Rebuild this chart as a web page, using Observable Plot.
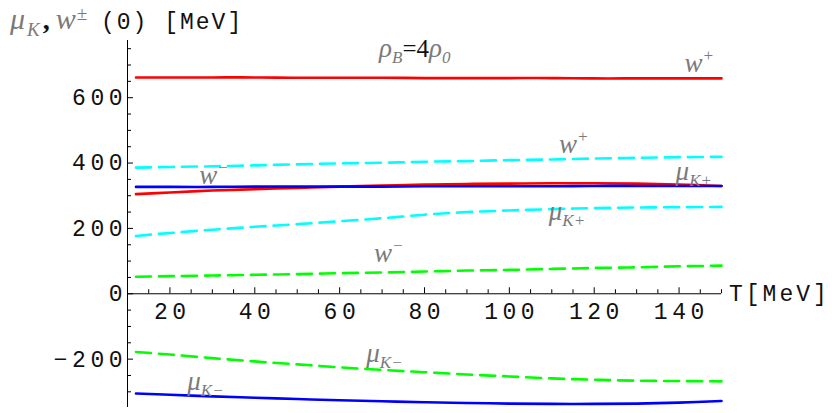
<!DOCTYPE html>
<html><head><meta charset="utf-8">
<script src="https://cdn.jsdelivr.net/npm/d3@7"></script>
<script src="https://cdn.jsdelivr.net/npm/@observablehq/plot@0.6"></script>
<style>body{margin:0;background:#fff} svg{display:block}</style>
</head><body><div id="chart"></div>
<script>
// Temperature samples (MeV)
const T = [12, 20, 30, 40, 50, 60, 70, 80, 90, 100, 110, 120, 130, 140, 150];
// rho_B = 4 rho_0 curves (MeV)
const wPlusSolid   = [662, 662, 662, 662, 661, 661, 661, 660, 660, 660, 660, 659, 659, 659, 659];
const muKplusSolid = [327, 327, 327, 328, 328, 328, 328, 329, 329, 329, 329, 330, 330, 330, 330];
const wMinusSolid  = [305, 310, 316, 320, 324, 328, 331, 334, 336, 337, 338, 338, 337, 334, 330];
const muKminusSolid= [-305, -309, -314, -318, -322, -326, -329, -332, -334, -336, -337, -337, -336, -333, -328];
const wPlusDash    = [386, 388, 390, 393, 396, 399, 401, 404, 406, 409, 411, 414, 416, 418, 419];
const muKplusDash  = [177, 186, 196, 205, 213, 222, 231, 242, 250, 255, 259, 262, 264, 265, 266];
const wMinusDash   = [52, 54, 56, 58, 60, 63, 65, 68, 71, 73, 76, 79, 81, 84, 86];
const muKminusDash = [-178, -186, -197, -207, -216, -225, -233, -240, -247, -253, -259, -263, -266, -267, -268];

const xTickLabels = [20, 40, 60, 80, 100, 120, 140];
const yTickLabels = [-200, 0, 200, 400, 600];
const xMinorTicks = d3.range(15, 151, 5);
const yMinorTicks = d3.range(-300, 751, 50);

const xDomain = [10, 150];
const yDomain = [-348, 775];

const series = [
  {values: wPlusDash,     stroke: "#00ffff", dash: "15,8"},
  {values: muKplusDash,   stroke: "#00ffff", dash: "15,8"},
  {values: wMinusDash,    stroke: "#00ff00", dash: "15,8"},
  {values: muKminusDash,  stroke: "#00ff00", dash: "15,8"},
  {values: wPlusSolid,    stroke: "#ff0000", dash: null},
  {values: wMinusSolid,   stroke: "#ff0000", dash: null},
  {values: muKplusSolid,  stroke: "#0000ff", dash: null},
  {values: muKminusSolid, stroke: "#0000ff", dash: null}
];

// curve annotations
const labels = [
  {T: 69.4, v: 722, parts: [["ρ","base"],["B","sub"],["=4","black"],["ρ","base"],["0","sub"]]},
  {T: 141.4, v: 676, parts: [["w","base"],["+","sup"]]},
  {T: 111.8, v: 428, parts: [["w","base"],["+","sup"]]},
  {T: 27.0, v: 334, parts: [["w","base"],["−","sup"]]},
  {T: 139.3, v: 346, parts: [["μ","base"],["K+","sub"]]},
  {T: 109.4, v: 223, parts: [["μ","base"],["K+","sub"]]},
  {T: 68.2, v: 95, parts: [["w","base"],["−","sup"]]},
  {T: 66.4, v: -211, parts: [["μ","base"],["K−","sub"]]},
  {T: 24.2, v: -297, parts: [["μ","base"],["K−","sub"]]}
];

const W = 835, H = 413;
const mL = 127, mR = 114, mT = 40, mB = 6;
const pxPerY = (H - mT - mB) / (yDomain[1] - yDomain[0]);
const pxPerX = (W - mL - mR) / (xDomain[1] - xDomain[0]);
const mono = "'Liberation Mono', 'DejaVu Sans Mono', monospace";
const LS = 4.5;

const marks = [];
marks.push(Plot.ruleY([0], {x1: xDomain[0], x2: xDomain[1], stroke: "#000", strokeWidth: 1}));
marks.push(Plot.ruleX([xDomain[0]], {y1: yDomain[0], y2: yDomain[1], stroke: "#000", strokeWidth: 1}));
marks.push(Plot.ruleX(xMinorTicks, {x: d => d, y1: 0, y2: d => (d % 20 === 0 ? 6 : 4) / pxPerY, stroke: "#000", strokeWidth: 1}));
marks.push(Plot.ruleY(yMinorTicks, {y: d => d, x1: xDomain[0], x2: d => xDomain[0] + (d % 200 === 0 ? 6 : 4) / pxPerX, stroke: "#000", strokeWidth: 1}));
for (const s of series) {
  marks.push(Plot.line(T.map((t, i) => ({T: t, v: s.values[i]})), {
    x: "T", y: "v", stroke: s.stroke, strokeWidth: 2.6,
    strokeDasharray: s.dash ?? undefined, curve: "catmull-rom"
  }));
}
marks.push(Plot.text(xTickLabels, {x: d => d, y: 0, dy: 18, dx: LS / 2, text: d => String(d), fontFamily: mono, fontSize: 23, fill: "#111"}));
marks.push(Plot.text(yTickLabels, {x: xDomain[0], y: d => d, dx: -5 + LS, text: d => (d < 0 ? "−" + Math.abs(d) : String(d)), textAnchor: "end", fontFamily: mono, fontSize: 23, fill: "#111"}));

const chart = Plot.plot({
  width: W, height: H,
  marginLeft: mL, marginRight: mR, marginTop: mT, marginBottom: mB,
  x: {domain: xDomain, axis: null},
  y: {domain: yDomain, axis: null},
  style: {background: "#fff", overflow: "visible"},
  marks
});
document.getElementById("chart").appendChild(chart);

const svg = d3.select(chart);
svg.selectAll("text").style("letter-spacing", LS + "px");

const sx = chart.scale("x"), sy = chart.scale("y");
// x axis name
svg.append("text").attr("x", sx.apply(xDomain[1]) + 8).attr("y", sy.apply(0)).attr("dy", "0.35em")
  .attr("text-anchor", "start").attr("font-family", mono).attr("font-size", 23).attr("fill", "#111")
  .style("letter-spacing", "3px").text("T[MeV]");

const gray = "#7a7a7a";
function addText(x, y, parts, big = false) {
  const t = svg.append("text").attr("x", x).attr("y", y).attr("text-anchor", "start");
  let off = 0;
  for (const [txt, role, absX, dx] of parts) {
    const sp = t.append("tspan").text(txt);
    if (absX !== undefined && absX !== null) sp.attr("x", absX);
    if (dx) sp.attr("dx", dx);
    let target = 0;
    if (role === "sub") target = big ? 7 : 6;
    if (role === "sup") target = big ? -9 : -11;
    sp.attr("dy", target - off);
    off = target;
    if (role === "base" || role === "sub" || role === "sup") {
      sp.attr("font-family", "'Liberation Serif', serif").attr("font-style", "italic")
        .attr("fill", gray).attr("font-size", role === "base" ? (big ? 30 : 27) : (big ? 19 : 17));
    } else if (role === "black") {
      sp.attr("font-family", "'Liberation Serif', serif").attr("fill", "#111").attr("font-size", 25);
    } else if (role === "mono") {
      sp.attr("font-family", mono).attr("fill", "#111").attr("font-size", 23).style("letter-spacing", "2px");
    } else if (role === "comma") {
      sp.attr("font-family", "'Liberation Serif', serif").attr("fill", "#111").attr("font-weight", "bold").attr("font-size", 28);
    }
  }
  return t;
}
for (const l of labels) addText(sx.apply(l.T), sy.apply(l.v), l.parts);
addText(10, 29, [["μ","base"],["K","sub",null,2],[",","comma",null,3],["w","base",null,6],["±","sup",null,1],["(0) [MeV]","mono",101]], true);
</script>
</body></html>
